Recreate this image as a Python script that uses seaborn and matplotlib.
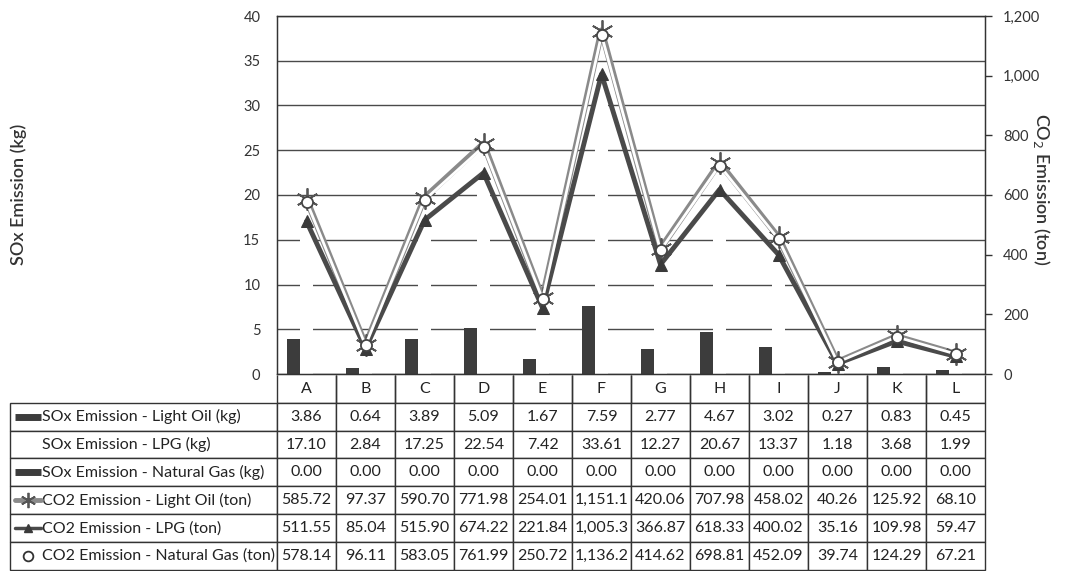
import numpy as np
import pandas as pd
import seaborn as sns
import matplotlib.pyplot as plt

sns.set_style("white")
plt.rcParams['font.family'] = ['Lato', 'DejaVu Sans']

sites = ['A', 'B', 'C', 'D', 'E', 'F', 'G', 'H', 'I', 'J', 'K', 'L']
sox_oil = [3.86, 0.64, 3.89, 5.09, 1.67, 7.59, 2.77, 4.67, 3.02, 0.27, 0.83, 0.45]
sox_lpg = [17.10, 2.84, 17.25, 22.54, 7.42, 33.61, 12.27, 20.67, 13.37, 1.18, 3.68, 1.99]
sox_gas = [0.00] * 12
co2_oil = [585.72, 97.37, 590.70, 771.98, 254.01, 1151.1, 420.06, 707.98, 458.02, 40.26, 125.92, 68.10]
co2_lpg = [511.55, 85.04, 515.90, 674.22, 221.84, 1005.3, 366.87, 618.33, 400.02, 35.16, 109.98, 59.47]
co2_gas = [578.14, 96.11, 583.05, 761.99, 250.72, 1136.2, 414.62, 698.81, 452.09, 39.74, 124.29, 67.21]

row_labels = ['SOx Emission - Light Oil (kg)',
              'SOx Emission - LPG (kg)',
              'SOx Emission - Natural Gas (kg)',
              'CO2 Emission - Light Oil (ton)',
              'CO2 Emission - LPG (ton)',
              'CO2 Emission - Natural Gas (ton)']
rows = [sox_oil, sox_lpg, sox_gas, co2_oil, co2_lpg, co2_gas]

bar_colors = ['#3c3c3c', '#ffffff', '#3c3c3c']

df_bar = pd.DataFrame({
    'site': sites * 3,
    'value': sox_oil + sox_lpg + sox_gas,
    'series': [row_labels[0]] * 12 + [row_labels[1]] * 12 + [row_labels[2]] * 12,
})

fig = plt.figure(figsize=(10.75, 5.71), dpi=100)
ax = fig.add_axes([277 / 1075, 197 / 571, 708 / 1075, 358 / 571])

sns.barplot(data=df_bar, x='site', y='value', hue='series', palette=bar_colors,
            width=0.66, saturation=1, edgecolor='none', legend=False, ax=ax)
ax.set_ylim(0, 40)
ax.set_xlim(-0.5, 11.5)
ax.set_yticks(np.arange(0, 41, 5))
ax.yaxis.grid(True, color='#4a4a4a', lw=1.0)
ax.set_axisbelow(True)
ax.set_xticks([])
ax.set_xlabel('')
ax.set_ylabel('')
ax.tick_params(axis='y', length=0, labelsize=10.5, pad=12, colors='#333333')
for s in ax.spines.values():
    s.set_color('#333333')
    s.set_linewidth(1)

# CO2 on the right axis
ax2 = ax.twinx()
x = np.arange(len(sites))
sns.lineplot(x=x, y=co2_oil, ax=ax2, color='#8a8a8a', lw=4.5, marker=(6, 2, 0),
             markersize=16, markeredgecolor='#555555', markeredgewidth=1.3)
sns.lineplot(x=x, y=co2_lpg, ax=ax2, color='#4a4a4a', lw=3.5, marker='^',
             markersize=8, markerfacecolor='#3a3a3a', markeredgecolor='#3a3a3a')
sns.lineplot(x=x, y=co2_gas, ax=ax2, color='#ffffff', lw=2, marker='o',
             markersize=8, markerfacecolor='#ffffff', markeredgecolor='#444444',
             markeredgewidth=1.3)
ax2.set_ylim(0, 1200)
ax2.set_xlim(-0.5, 11.5)
ax2.set_yticks(np.arange(0, 1201, 200))
ax2.set_yticklabels([f'{v:,}' for v in range(0, 1201, 200)])
ax2.tick_params(axis='y', length=5, width=1, direction='out', labelsize=10.5,
                pad=8, colors='#333333')
ax2.grid(False)
for s in ax2.spines.values():
    s.set_color('#333333')

fig.text(0.017, 0.66, 'SOx Emission (kg)', rotation=90, ha='center', va='center',
         fontsize=13, color='#333333', fontweight='semibold')
fig.text(0.969, 0.668, 'CO$_2$ Emission (ton)', rotation=270, ha='center', va='center',
         fontsize=13, color='#333333', fontweight='semibold')

# data table with legend keys
axt = fig.add_axes([10 / 1075, 0.002, 975 / 1075, 195 / 571])
axt.set_xlim(0, 1)
axt.set_ylim(0, 1)
axt.axis('off')

def fmt(v):
    return f'{v:,.1f}' if v >= 1000 else f'{v:.2f}'

cell_text = [[lab] + [fmt(v) for v in r] for lab, r in zip(row_labels, rows)]
col_w = [267 / 975] + [59 / 975] * 12
tab = axt.table(cellText=cell_text, colLabels=[''] + sites, colWidths=col_w,
                cellLoc='center', bbox=[0, 0, 1, 1])
tab.auto_set_font_size(False)
for (r, c), cell in tab.get_celld().items():
    cell.set_edgecolor('#333333')
    cell.set_linewidth(1)
    cell.get_text().set_fontsize(11.5)
    cell.get_text().set_color('#222222')
    if r == 0 and c == 0:
        cell.visible_edges = ''
    elif r == 0:
        cell.visible_edges = 'BLR'
    if c == 0 and r > 0:
        cell.get_text().set_ha('left')
        cell._loc = 'left'
        cell.PAD = 0.12

# legend keys in the first column
nrow = 7
def yc(i):
    return 1 - (i + 0.5) / nrow

kx0, kx1 = 5 / 975, 31 / 975
axt.plot([kx0, kx1], [yc(1)] * 2, color=bar_colors[0], lw=5, solid_capstyle='butt')
axt.plot([kx0, kx1], [yc(3)] * 2, color=bar_colors[2], lw=5, solid_capstyle='butt')
axt.plot([kx0, kx1], [yc(4)] * 2, color='#8a8a8a', lw=3.5)
axt.plot([(kx0 + kx1) / 2], [yc(4)], marker=(6, 2, 0), ms=11, mec='#555555', mew=1.3)
axt.plot([kx0, kx1], [yc(5)] * 2, color='#4a4a4a', lw=2.5)
axt.plot([(kx0 + kx1) / 2], [yc(5)], marker='^', ms=6, color='#3a3a3a')
axt.plot([(kx0 + kx1) / 2], [yc(6)], marker='o', ms=7, mfc='white', mec='#333333', mew=1.3)

fig.savefig('out.png', dpi=100)
